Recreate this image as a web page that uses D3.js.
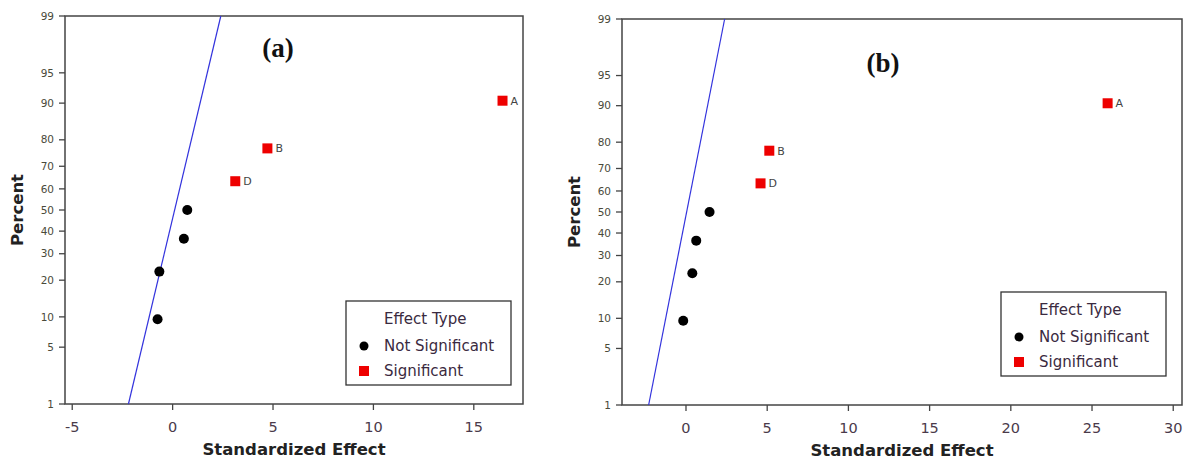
<!doctype html>
<html lang="en">
<head>
<meta charset="utf-8">
<style>
html, body { margin: 0; padding: 0; background: #fff; overflow: hidden; }
svg { display: block; }
.ytick text { font-family: "DejaVu Sans", sans-serif; font-size: 10.5px; fill: #4a4a3a; }
.xtick text { font-family: "DejaVu Sans", sans-serif; font-size: 14.5px; fill: #4a3a4a; }
.axis-title { font-family: "DejaVu Sans", sans-serif; font-weight: bold; font-size: 16.5px; fill: #222; }
.legend text { font-family: "DejaVu Sans", sans-serif; font-size: 15px; fill: #3a2a40; }
.pt-label { font-family: "DejaVu Sans", sans-serif; font-size: 11px; fill: #444; }
.panel-label { font-family: "Liberation Serif", serif; font-weight: bold; font-size: 27px; fill: #111; }
</style>
</head>
<body>
<svg id="chart" width="1184" height="460"></svg>
<script src="https://cdn.jsdelivr.net/npm/d3@7"></script>
<script>
// normal-plot percentiles of the 7 effects
const percents = [9.5, 23.0, 36.5, 50.0, 63.5, 77.0, 90.5];
const effectNames = ['', '', '', '', 'D', 'B', 'A'];
const effectTypes = ['Not Significant', 'Not Significant', 'Not Significant', 'Not Significant', 'Significant', 'Significant', 'Significant'];
const effectsA = [-0.75, -0.66, 0.56, 0.73, 3.12, 4.72, 16.43];
const effectsB = [-0.17, 0.39, 0.63, 1.45, 4.59, 5.13, 25.96];
// reference line, x at 1% and at 99%
const lineA = [-2.2, 2.4];
const lineB = [-2.3, 2.38];
const yTicks = [1, 5, 10, 20, 30, 40, 50, 60, 70, 80, 90, 95, 99];
const xTicksA = [-5, 0, 5, 10, 15];
const xTicksB = [0, 5, 10, 15, 20, 25, 30];
const legendItems = ['Not Significant', 'Significant'];

// inverse normal cdf (Acklam)
function probit(p) {
    const a = [-3.969683028665376e+01, 2.209460984245205e+02, -2.759285104469687e+02, 1.383577518672690e+02, -3.066479806614716e+01, 2.506628277459239e+00],
          b = [-5.447609879822406e+01, 1.615858368580409e+02, -1.556989798598866e+02, 6.680131188771972e+01, -1.328068155288572e+01],
          c = [-7.784894002430293e-03, -3.223964580411365e-01, -2.400758277161838e+00, -2.549732539343734e+00, 4.374664141464968e+00, 2.938163982698783e+00],
          d = [7.784695709041462e-03, 3.224671290700398e-01, 2.445134137142996e+00, 3.754408661907416e+00];
    const pl = 0.02425;
    let q, r;
    if (p < pl) {
        q = Math.sqrt(-2 * Math.log(p));
        return (((((c[0]*q+c[1])*q+c[2])*q+c[3])*q+c[4])*q+c[5]) / ((((d[0]*q+d[1])*q+d[2])*q+d[3])*q+1);
    } else if (p <= 1 - pl) {
        q = p - 0.5; r = q * q;
        return (((((a[0]*r+a[1])*r+a[2])*r+a[3])*r+a[4])*r+a[5])*q / (((((b[0]*r+b[1])*r+b[2])*r+b[3])*r+b[4])*r+1);
    }
    q = Math.sqrt(-2 * Math.log(1 - p));
    return -(((((c[0]*q+c[1])*q+c[2])*q+c[3])*q+c[4])*q+c[5]) / ((((d[0]*q+d[1])*q+d[2])*q+d[3])*q+1);
}

const svg = d3.select('#chart');

function panel(opt) {
    const g = svg.append('g');
    const x = d3.scaleLinear().domain(opt.xDomain).range([opt.left, opt.right]);
    const zy = d3.scaleLinear().domain([probit(0.01), probit(0.99)]).range([opt.bottom, opt.top]);
    const y = p => zy(probit(p / 100));

    // frame
    g.append('rect')
        .attr('x', opt.left).attr('y', opt.top)
        .attr('width', opt.right - opt.left).attr('height', opt.bottom - opt.top)
        .attr('fill', 'none').attr('stroke', '#444').attr('stroke-width', 1.5);

    // y axis ticks (probability scale)
    const yt = g.selectAll('.ytick').data(yTicks).enter().append('g').attr('class', 'ytick');
    yt.append('line')
        .attr('x1', opt.left - 6).attr('x2', opt.left)
        .attr('y1', d => y(d)).attr('y2', d => y(d))
        .attr('stroke', '#444').attr('stroke-width', 1.3);
    yt.append('text')
        .attr('x', opt.left - 11).attr('y', d => y(d)).attr('dy', '0.35em')
        .attr('text-anchor', 'end').text(d => d);

    // x axis ticks
    const xt = g.selectAll('.xtick').data(opt.xTicks).enter().append('g').attr('class', 'xtick');
    xt.append('line')
        .attr('x1', d => x(d)).attr('x2', d => x(d))
        .attr('y1', opt.bottom).attr('y2', opt.bottom + 6)
        .attr('stroke', '#444').attr('stroke-width', 1.3);
    xt.append('text')
        .attr('x', d => x(d)).attr('y', opt.bottom + 28)
        .attr('text-anchor', 'middle').text(d => d);

    // axis titles
    g.append('text').attr('class', 'axis-title')
        .attr('transform', `translate(${opt.left - 42},${zy(0)}) rotate(-90)`)
        .attr('text-anchor', 'middle').text('Percent');
    g.append('text').attr('class', 'axis-title')
        .attr('x', (opt.left + opt.right) / 2).attr('y', opt.bottom + 51)
        .attr('text-anchor', 'middle').text('Standardized Effect');

    // reference line
    g.append('line')
        .attr('x1', x(opt.line[0])).attr('y1', y(1))
        .attr('x2', x(opt.line[1])).attr('y2', y(99))
        .attr('stroke', '#3333dd').attr('stroke-width', 1.2);

    // points
    const pts = percents.map((p, i) => ({p, e: opt.effects[i], t: effectTypes[i], n: effectNames[i]}));
    g.selectAll('.dot').data(pts.filter(d => d.t === 'Not Significant')).enter().append('circle')
        .attr('cx', d => x(d.e)).attr('cy', d => y(d.p)).attr('r', 5).attr('fill', '#000');
    g.selectAll('.sq').data(pts.filter(d => d.t === 'Significant')).enter().append('rect')
        .attr('x', d => x(d.e) - 5).attr('y', d => y(d.p) - 5)
        .attr('width', 10).attr('height', 10).attr('fill', '#ee0000');
    g.selectAll('.pt-label').data(pts.filter(d => d.n)).enter().append('text')
        .attr('class', 'pt-label')
        .attr('x', d => x(d.e) + 8).attr('y', d => y(d.p)).attr('dy', '0.36em')
        .text(d => d.n);

    // legend
    const lg = g.append('g').attr('class', 'legend')
        .attr('transform', `translate(${opt.legend[0]},${opt.legend[1]})`);
    lg.append('rect').attr('width', 165).attr('height', 84)
        .attr('fill', '#fff').attr('stroke', '#333').attr('stroke-width', 1.3);
    lg.append('text').attr('x', 38).attr('y', 23).text('Effect Type');
    legendItems.forEach((t, i) => {
        const cy = 45 + i * 25;
        if (t === 'Significant')
            lg.append('rect').attr('x', 13).attr('y', cy - 5).attr('width', 10).attr('height', 10).attr('fill', '#ee0000');
        else
            lg.append('circle').attr('cx', 18).attr('cy', cy).attr('r', 4.5).attr('fill', '#000');
        lg.append('text').attr('x', 38).attr('y', cy).attr('dy', '0.35em').text(t);
    });

    // panel label
    g.append('text').attr('class', 'panel-label')
        .attr('x', opt.tag[0]).attr('y', opt.tag[1])
        .attr('text-anchor', 'middle').text(opt.name);
}

panel({
    name: '(a)', left: 65, right: 523, top: 16, bottom: 404,
    xDomain: [-5.36, 17.45], xTicks: xTicksA, effects: effectsA, line: lineA,
    legend: [346, 301], tag: [278, 57]
});
panel({
    name: '(b)', left: 622, right: 1182, top: 19, bottom: 405,
    xDomain: [-3.94, 30.54], xTicks: xTicksB, effects: effectsB, line: lineB,
    legend: [1001, 292], tag: [883, 72]
});
</script>
</body>
</html>
